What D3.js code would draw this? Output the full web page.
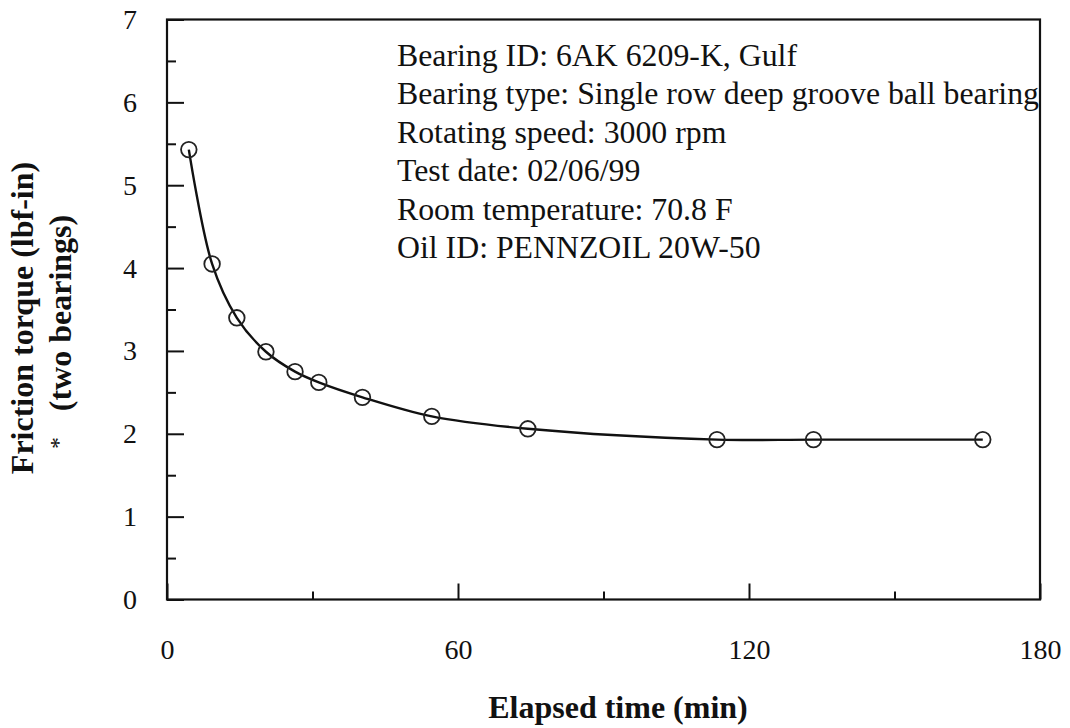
<!DOCTYPE html>
<html>
<head>
<meta charset="utf-8">
<script src="https://cdn.jsdelivr.net/npm/d3@7"></script>
<style>
  html, body { margin: 0; padding: 0; background: #fff; }
  svg { display: block; }
  svg text { font-family: "Liberation Serif", "Times New Roman", serif; fill: #111; }
</style>
</head>
<body>
<svg id="chart" width="1070" height="728"></svg>
<script>
// Friction torque measurements over a run-in test
const elapsedMin = [4.5, 9.3, 14.4, 20.4, 26.4, 31.3, 40.3, 54.6, 74.4, 113.4, 133.3, 168.2];
const torque     = [5.43, 4.05, 3.40, 2.99, 2.75, 2.62, 2.44, 2.21, 2.06, 1.93, 1.93, 1.93];

const xMajorTicks = [0, 60, 120, 180];
const xMinorTicks = [30, 90, 150];
const yMajorTicks = [0, 1, 2, 3, 4, 5, 6, 7];
const yMinorTicks = [0.5, 1.5, 2.5, 3.5, 4.5, 5.5, 6.5];

const notes = [
  "Bearing ID: 6AK 6209-K, Gulf",
  "Bearing type: Single row deep groove ball bearing",
  "Rotating speed: 3000 rpm",
  "Test date: 02/06/99",
  "Room temperature: 70.8 F",
  "Oil ID: PENNZOIL 20W-50"
];

const serif = "'Liberation Serif', 'Times New Roman', serif";
const svg = d3.select("#chart");
const plotL = 167, plotR = 1040, plotT = 19.5, plotB = 599.5;

const x = d3.scaleLinear().domain([0, 180]).range([plotL, plotR]);
const y = d3.scaleLinear().domain([0, 7]).range([plotB, plotT]);

const ink = "#111";

// inward ticks along the bottom
const gx = svg.append("g").attr("transform", `translate(0,${plotB})`);
gx.call(d3.axisBottom(x).tickValues(xMajorTicks).tickSize(-16).tickPadding(40).tickFormat(d3.format("d")));
const gxm = svg.append("g").attr("transform", `translate(0,${plotB})`);
gxm.call(d3.axisBottom(x).tickValues(xMinorTicks).tickSize(-8).tickFormat(""));

// inward ticks along the left
const gy = svg.append("g").attr("transform", `translate(${plotL},0)`);
gy.call(d3.axisLeft(y).tickValues(yMajorTicks).tickSize(-17).tickPadding(30).tickFormat(d3.format("d")));
const gym = svg.append("g").attr("transform", `translate(${plotL},0)`);
gym.call(d3.axisLeft(y).tickValues(yMinorTicks).tickSize(-9).tickFormat(""));

[gx, gxm, gy, gym].forEach(g => g.attr("font-family", serif).attr("font-size", 28));
svg.selectAll(".domain").remove();
svg.selectAll(".tick line").attr("stroke", ink).attr("stroke-width", 2);
svg.selectAll(".tick text").attr("fill", ink).style("font-family", serif).style("font-size", "28px");

// frame
svg.append("rect")
  .attr("x", plotL).attr("y", plotT)
  .attr("width", plotR - plotL).attr("height", plotB - plotT)
  .attr("fill", "none").attr("stroke", ink).attr("stroke-width", 2.2);

// fitted curve through the measurements
const pts = elapsedMin.map((t, i) => [t, torque[i]]);
svg.append("path")
  .datum(pts)
  .attr("fill", "none")
  .attr("stroke", ink)
  .attr("stroke-width", 2.4)
  .attr("d", d3.line().x(d => x(d[0])).y(d => y(d[1])).curve(d3.curveCatmullRom.alpha(0.5)));

// open circle markers
svg.append("g").selectAll("circle")
  .data(pts)
  .join("circle")
  .attr("cx", d => x(d[0]))
  .attr("cy", d => y(d[1]))
  .attr("r", 7.8)
  .attr("fill", "none")
  .attr("stroke", "#222")
  .attr("stroke-width", 1.8);

// test conditions
svg.append("g").selectAll("text")
  .data(notes)
  .join("text")
  .attr("x", 397)
  .attr("y", (d, i) => 66 + i * 38.4)
  .style("font-family", serif)
  .style("font-size", "31.8px")
  .text(d => d);

// axis titles
svg.append("text")
  .attr("x", 618).attr("y", 718)
  .attr("text-anchor", "middle")
  .style("font-family", serif).style("font-size", "32px").style("font-weight", "bold")
  .text("Elapsed time (min)");

svg.append("text")
  .attr("transform", "translate(33,318) rotate(-90)")
  .attr("text-anchor", "middle")
  .style("font-family", serif).style("font-size", "32px").style("font-weight", "bold")
  .text("Friction torque (lbf-in)");

svg.append("text")
  .attr("transform", "translate(71,313) rotate(-90)")
  .attr("text-anchor", "middle")
  .style("font-family", serif).style("font-size", "32px").style("font-weight", "bold")
  .text("(two bearings)");

svg.append("text")
  .attr("transform", "translate(66,443) rotate(-90)")
  .attr("text-anchor", "middle")
  .style("font-family", serif).style("font-size", "24px")
  .text("*");
</script>
</body>
</html>
